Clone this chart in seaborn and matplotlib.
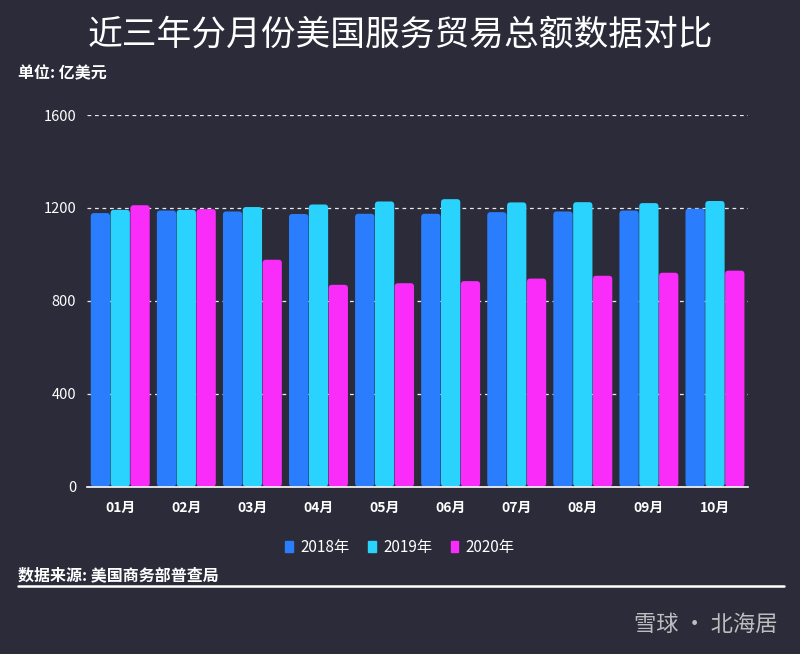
import pandas as pd
import numpy as np
import matplotlib.pyplot as plt
import seaborn as sns
from matplotlib.patches import FancyBboxPatch

# data (亿美元)
months = ['01月', '02月', '03月', '04月', '05月', '06月', '07月', '08月', '09月', '10月']
years = ['2018年', '2019年', '2020年']
v2018 = [1178, 1189, 1185, 1174, 1175, 1175, 1182, 1185, 1189, 1197]
v2019 = [1192, 1192, 1204, 1215, 1228, 1238, 1224, 1225, 1221, 1230]
v2020 = [1212, 1195, 977, 869, 876, 885, 896, 908, 921, 930]
colors = ['#2a7efd', '#29d3fd', '#f92cf9']

bg = '#2c2b3a'

df = pd.DataFrame({
    'month': months * 3,
    'year': [years[0]] * 10 + [years[1]] * 10 + [years[2]] * 10,
    'value': v2018 + v2019 + v2020,
})

sns.set_style('dark')
plt.rcParams['font.family'] = ['Noto Sans CJK SC', 'DejaVu Sans']

fig = plt.figure(figsize=(8, 6.54), dpi=100, facecolor=bg)
ax = fig.add_axes([0.109, 0.256, 0.826, 0.568])
ax.set_facecolor(bg)

sns.barplot(data=df, x='month', y='value', hue='year', palette=colors,
            width=0.9, ax=ax, legend=False, saturation=1)

# rounded corners on the bars
old = list(ax.patches)
for p in old:
    x, y = p.get_x(), p.get_y()
    w, h = p.get_width(), p.get_height()
    fc = p.get_facecolor()
    p.remove()
    r = FancyBboxPatch((x + 0.004, y), w - 0.008, h,
                       boxstyle='round,pad=0,rounding_size=0.05',
                       mutation_aspect=290, facecolor=fc, edgecolor='none', zorder=2)
    ax.add_patch(r)

ax.set_ylim(0, 1600)
ax.set_xlim(-0.5, 9.5)
ax.set_yticks([0, 400, 800, 1200, 1600])
ax.yaxis.grid(True, color='white', linestyle=(0, (3, 3)), linewidth=0.9, alpha=0.9)
ax.xaxis.grid(False)
ax.set_axisbelow(True)
ax.set_xlabel('')
ax.set_ylabel('')
for s in ['top', 'right', 'left']:
    ax.spines[s].set_visible(False)
ax.spines['bottom'].set_color('white')
ax.spines['bottom'].set_linewidth(1.2)
ax.tick_params(axis='y', colors='white', labelsize=10.5, length=0, pad=8)
ax.tick_params(axis='x', colors='white', labelsize=10, length=4, width=1, pad=6)
for lab in ax.get_xticklabels():
    lab.set_fontweight('bold')

# legend
handles = [plt.Rectangle((0, 0), 1, 1, color=c) for c in colors]
fig.legend(handles, years, loc='center', bbox_to_anchor=(0.5, 0.163), ncol=3,
           frameon=False, labelcolor='white', fontsize=11, handlelength=0.5,
           handleheight=0.8, handletextpad=0.5, columnspacing=1.2)

fig.text(0.5, 0.947, '近三年分月份美国服务贸易总额数据对比', ha='center', va='center',
         color='white', fontsize=25)
fig.text(0.022, 0.888, '单位: 亿美元', ha='left', va='center', color='white',
         fontsize=11.5, fontweight='bold')
fig.text(0.022, 0.121, '数据来源: 美国商务部普查局', ha='left', va='center', color='white',
         fontsize=11.5, fontweight='bold')
fig.add_artist(plt.Line2D([0.022, 0.98], [0.104, 0.104], color='white', linewidth=1.8,
                          transform=fig.transFigure))
fig.text(0.972, 0.045, '雪球 · 北海居', ha='right', va='center', color='#d8d8d8',
         fontsize=16, alpha=0.85)

fig.savefig('out.png', dpi=100, facecolor=bg)
